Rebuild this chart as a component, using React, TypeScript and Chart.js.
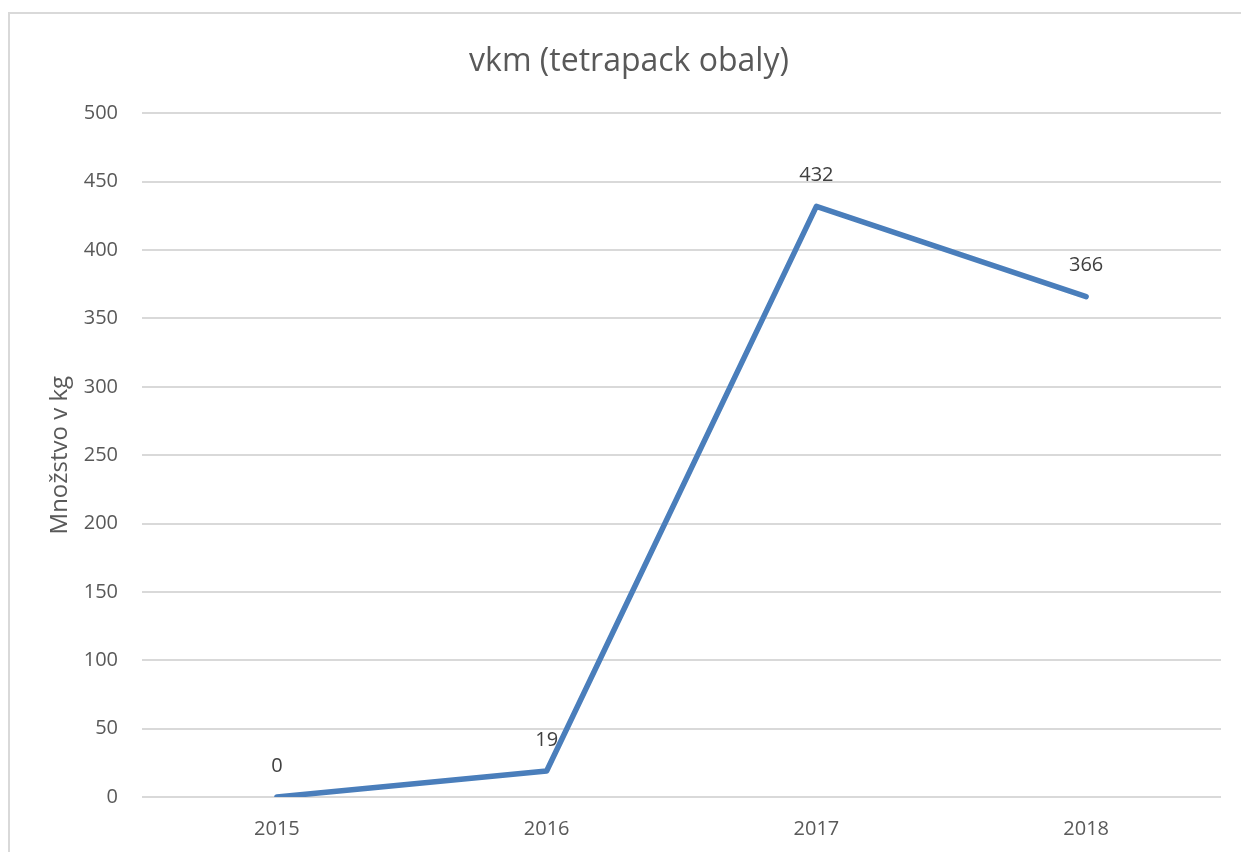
import React, { useEffect, useRef } from "react";
import { Chart, registerables } from "chart.js";

Chart.register(...registerables);

const categories = ["2015", "2016", "2017", "2018"];
const values = [0, 19, 432, 366];
const yTicks = [0, 50, 100, 150, 200, 250, 300, 350, 400, 450, 500];
const chartTitle = "vkm (tetrapack obaly)";
const yTitle = "Množstvo v kg";

const FONT = "'Open Sans', 'Liberation Sans', sans-serif";

const dataLabels = {
  id: "dataLabels",
  afterDatasetsDraw(chart: any) {
    const ctx = chart.ctx;
    const meta = chart.getDatasetMeta(0);
    ctx.save();
    ctx.font = `20px ${FONT}`;
    ctx.fillStyle = "#404040";
    ctx.textAlign = "center";
    ctx.textBaseline = "middle";
    meta.data.forEach((pt: any, i: number) => {
      ctx.fillText(String(values[i]), pt.x, pt.y - 31);
    });
    ctx.restore();
  },
};

export default function App() {
  const ref = useRef<HTMLCanvasElement>(null);
  useEffect(() => {
    if (!ref.current) return;
    const chart = new Chart(ref.current, {
      type: "line",
      data: {
        labels: categories,
        datasets: [
          {
            data: values,
            borderColor: "#4a7ebb",
            borderWidth: 5.5,
            pointRadius: 0,
            borderCapStyle: "round",
            borderJoinStyle: "round",
            tension: 0,
          },
        ],
      },
      options: {
        responsive: false,
        animation: false,
        layout: { padding: { left: 37, right: 20, top: 0, bottom: 0 } },
        plugins: {
          legend: { display: false },
          tooltip: { enabled: false },
          title: {
            display: true,
            text: chartTitle,
            color: "#595959",
            font: { family: FONT, size: 32, weight: "normal" },
            padding: { top: 43, bottom: 32 },
          },
        },
        scales: {
          x: {
            offset: true,
            afterFit: (scale: any) => {
              scale.height = 55;
            },
            grid: { display: false, drawTicks: false },
            border: { display: false },
            ticks: {
              color: "#595959",
              font: { family: FONT, size: 20 },
              padding: 20,
            },
          },
          y: {
            min: 0,
            max: 500,
            afterBuildTicks: (scale: any) => {
              scale.ticks = yTicks.map((v) => ({ value: v }));
            },
            afterFit: (scale: any) => {
              scale.width = 105;
            },
            grid: { color: "#d9d9d9", lineWidth: 2, drawTicks: false },
            border: { display: false },
            ticks: {
              color: "#595959",
              font: { family: FONT, size: 20 },
              padding: 24,
            },
            title: {
              display: true,
              text: yTitle,
              color: "#595959",
              font: { family: FONT, size: 24, weight: "normal" },
              padding: { top: 9, bottom: 0 },
            },
          },
        },
      },
      plugins: [dataLabels],
    } as any);
    return () => chart.destroy();
  }, []);

  return (
    <div
      style={{
        position: "fixed",
        left: 0,
        top: 0,
        width: 1241,
        height: 852,
        overflow: "hidden",
        background: "#fff",
      }}
    >
      <div
        style={{
          position: "absolute",
          left: 8,
          top: 12,
          width: 1300,
          height: 900,
          border: "2px solid #d9d9d9",
          boxSizing: "border-box",
        }}
      />
      <canvas
        ref={ref}
        width={1241}
        height={852}
        style={{ position: "absolute", left: 0, top: 0, display: "block" }}
      />
    </div>
  );
}
